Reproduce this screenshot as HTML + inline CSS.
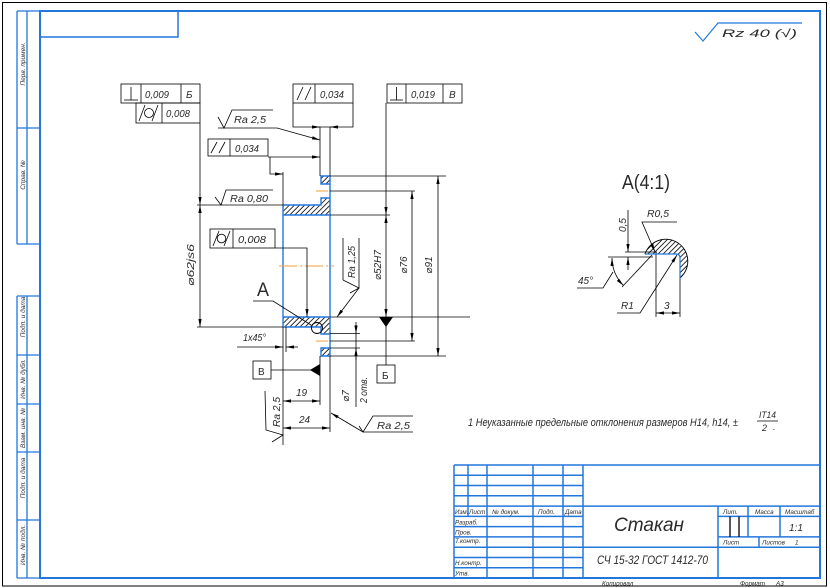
<!DOCTYPE html>
<html><head><meta charset="utf-8">
<style>
html,body{margin:0;padding:0;background:#fff;}
svg{display:block;}
text{font-family:"Liberation Sans","DejaVu Sans",sans-serif;font-style:italic;fill:#2a2a2a;}
text.n{font-style:normal;}
</style></head><body>
<svg width="830" height="588" viewBox="0 0 830 588" xmlns="http://www.w3.org/2000/svg">
<defs>
<marker id="ar" markerUnits="userSpaceOnUse" markerWidth="9" markerHeight="4" refX="8" refY="2" orient="auto-start-reverse"><path d="M0,0.4 L8,2 L0,3.6z" fill="#000"/></marker>
<pattern id="h" patternUnits="userSpaceOnUse" width="3.6" height="3.6" patternTransform="rotate(45)"><line x1="0.5" y1="0" x2="0.5" y2="3.6" stroke="#000" stroke-width="0.8"/></pattern>
</defs>

<!-- outer border -->
<rect x="2.5" y="2.5" width="824" height="583.5" fill="none" stroke="#000" stroke-width="1"/>
<!-- blue frame -->
<g stroke="#2277dd" fill="none">
<rect x="40" y="11" width="780" height="567" stroke-width="2"/>
<polyline points="40,37 178,37 178,11" stroke-width="1.5"/>
<g stroke-width="1.3">
<line x1="17" y1="11" x2="17" y2="244"/><line x1="27" y1="11" x2="27" y2="244"/>
<line x1="17" y1="11" x2="40" y2="11"/><line x1="17" y1="128" x2="40" y2="128"/><line x1="17" y1="244" x2="40" y2="244"/>
<line x1="17" y1="296" x2="17" y2="578"/><line x1="27" y1="296" x2="27" y2="578"/>
<line x1="17" y1="296" x2="40" y2="296"/><line x1="17" y1="355" x2="40" y2="355"/><line x1="17" y1="404" x2="40" y2="404"/>
<line x1="17" y1="452" x2="40" y2="452"/><line x1="17" y1="520" x2="40" y2="520"/><line x1="17" y1="578" x2="40" y2="578"/>
</g>
</g>
<g font-size="6.5" text-anchor="middle">
<text transform="translate(25,64) rotate(-90)">Перв. примен.</text>
<text transform="translate(25,175) rotate(-90)">Справ. №</text>
<text transform="translate(25,317) rotate(-90)">Подп. и дата</text>
<text transform="translate(25,379) rotate(-90)">Инв. № дубл.</text>
<text transform="translate(25,428) rotate(-90)">Взам. инв. №</text>
<text transform="translate(25,478) rotate(-90)">Подп. и дата</text>
<text transform="translate(25,545) rotate(-90)">Инв. № подл.</text>
</g>

<!-- Rz sign -->
<polyline points="695,32 703,41 718,23 802,23" fill="none" stroke="#2277dd" stroke-width="1.2"/>
<text x="722" y="37" font-size="11" textLength="75" lengthAdjust="spacingAndGlyphs">Rz 40 (√)</text>

<!-- PART hatching -->
<path d="M321,176 H330 V184 H321 Z M321,198 H330 V215 H283 V205 H321 Z M283,317 H330 V334 H321 V327 H283 Z M321,348 H330 V356 H321 Z" fill="url(#h)"/>
<!-- part contour -->
<g stroke="#2277dd" stroke-width="1.4" fill="none">
<line x1="283" y1="205" x2="283" y2="327"/>
<line x1="330" y1="176" x2="330" y2="356"/>
<polyline points="330,176 321,176 321,184 330,184"/>
<polyline points="330,198 321,198 321,205 283,205"/>
<line x1="283" y1="215" x2="330" y2="215"/>
<line x1="283" y1="317" x2="330" y2="317"/>
<polyline points="283,327 321,327 321,334 330,334"/>
<polyline points="330,348 321,348 321,356 330,356"/>
</g>
<!-- centerlines -->
<g stroke="#f0a040" stroke-width="1" fill="none">
<line x1="279" y1="266" x2="334" y2="266" stroke-dasharray="18,3,2,3"/>
<line x1="316" y1="191" x2="328" y2="191"/>
<line x1="316" y1="341" x2="328" y2="341"/>
</g>
<circle cx="317" cy="328" r="5.5" fill="none" stroke="#000" stroke-width="0.9"/>

<!-- drawing lines -->
<g stroke="#000" stroke-width="0.8" fill="none">
<rect x="121" y="84" width="79" height="19"/>
<line x1="141" y1="84" x2="141" y2="103"/><line x1="181" y1="84" x2="181" y2="103"/>
<line x1="124" y1="100" x2="138" y2="100"/><line x1="131" y1="87" x2="131" y2="100"/>
<rect x="136" y="103" width="64" height="20"/>
<line x1="162" y1="103" x2="162" y2="123"/>
<circle cx="149" cy="113" r="4.5"/>
<line x1="139" y1="121" x2="145" y2="105"/><line x1="152" y1="121" x2="158" y2="105"/>
<rect x="293" y="84" width="60" height="19"/>
<line x1="315" y1="84" x2="315" y2="103"/>
<line x1="297" y1="100" x2="303" y2="87"/><line x1="305" y1="100" x2="311" y2="87"/>
<polyline points="293,103 293,127 353,127 353,103"/>
<line x1="312" y1="127" x2="320" y2="127" marker-end="url(#ar)"/>
<line x1="338" y1="127" x2="330" y2="127" marker-end="url(#ar)"/>
<line x1="320" y1="127" x2="320" y2="176"/><line x1="330" y1="127" x2="330" y2="176"/>
<rect x="208" y="139" width="60" height="17"/>
<line x1="230" y1="139" x2="230" y2="156"/>
<line x1="211" y1="153" x2="217" y2="142"/><line x1="219" y1="153" x2="225" y2="142"/>
<line x1="268" y1="157" x2="320" y2="157" marker-end="url(#ar)"/>
<polyline points="270,157 270,174 283,174" marker-end="url(#ar)"/>
<line x1="283" y1="172" x2="283" y2="205"/>
<rect x="387" y="84" width="75" height="19"/>
<line x1="406" y1="84" x2="406" y2="103"/><line x1="443" y1="84" x2="443" y2="103"/>
<line x1="390" y1="100" x2="403" y2="100"/><line x1="396.5" y1="87" x2="396.5" y2="100"/>
<line x1="386" y1="103" x2="386" y2="215" marker-end="url(#ar)"/>
<rect x="210" y="229" width="65" height="19"/>
<line x1="233" y1="229" x2="233" y2="248"/>
<circle cx="221.5" cy="238.5" r="4.3"/>
<line x1="213" y1="246" x2="219" y2="231"/><line x1="224" y1="246" x2="230" y2="231"/>
<polyline points="275,248 307,248 307,317" marker-end="url(#ar)"/>

<polyline points="218,117 224,128 232,110 273,110"/>
<polyline points="218,128 277,128 320,140" marker-end="url(#ar)"/>
<polyline points="215,197 221,205 226,190 273,190"/>
<line x1="197" y1="205" x2="283" y2="205"/>
<line x1="200" y1="123" x2="200" y2="205" marker-end="url(#ar)"/>
<line x1="200" y1="205" x2="200" y2="327" marker-start="url(#ar)" marker-end="url(#ar)"/>
<line x1="197" y1="327" x2="283" y2="327"/>
<polyline points="253,301 273,301 311,325"/>
<line x1="330" y1="176" x2="446" y2="176"/>
<line x1="330" y1="191" x2="415" y2="191"/>
<line x1="330" y1="215" x2="390" y2="215"/>
<line x1="330" y1="317" x2="470" y2="317"/>
<line x1="330" y1="333.5" x2="360" y2="333.5"/>
<line x1="330" y1="341" x2="415" y2="341"/>
<line x1="330" y1="348" x2="360" y2="348"/>
<line x1="330" y1="356" x2="446" y2="356"/>
<line x1="438" y1="176" x2="438" y2="356" marker-start="url(#ar)" marker-end="url(#ar)"/>
<line x1="412" y1="191" x2="412" y2="341" marker-start="url(#ar)" marker-end="url(#ar)"/>
<line x1="386" y1="215" x2="386" y2="317" marker-start="url(#ar)" marker-end="url(#ar)"/>
<line x1="386" y1="317" x2="386" y2="365"/>
<rect x="377" y="365" width="18" height="18"/>
<line x1="356" y1="322" x2="356" y2="333.5" marker-end="url(#ar)"/>
<line x1="356" y1="360" x2="356" y2="348" marker-end="url(#ar)"/>
<line x1="356" y1="333.5" x2="356" y2="407"/>
<line x1="343" y1="238" x2="343" y2="280"/>
<line x1="359" y1="238" x2="359" y2="288"/>
<polyline points="343,280 359,288 350,293"/>
<line x1="359" y1="288" x2="337" y2="317" marker-end="url(#ar)"/>
<line x1="283" y1="327" x2="283" y2="445"/>
<line x1="286" y1="327" x2="286" y2="352"/>
<line x1="237" y1="347" x2="283" y2="347" marker-end="url(#ar)"/>
<line x1="298" y1="347" x2="286" y2="347" marker-end="url(#ar)"/>
<rect x="253" y="361" width="18" height="18"/>
<line x1="271" y1="370" x2="311" y2="370"/>
<line x1="320" y1="356" x2="320" y2="405"/>
<line x1="330" y1="356" x2="330" y2="432"/>
<line x1="283" y1="401" x2="320" y2="401" marker-start="url(#ar)" marker-end="url(#ar)"/>
<line x1="283" y1="428" x2="330" y2="428" marker-start="url(#ar)" marker-end="url(#ar)"/>
<polyline points="265,391 266,430 283,435 272,442"/>
<polyline points="363,432 331,413" marker-end="url(#ar)"/>
<line x1="363" y1="432" x2="413" y2="432"/>
<polyline points="359,426 363,432 373,416 413,416"/>

<line x1="656" y1="252" x2="656" y2="317"/>
<line x1="680" y1="278" x2="680" y2="317"/>
<line x1="656" y1="313" x2="680" y2="313" marker-start="url(#ar)" marker-end="url(#ar)"/>
<polyline points="617,313 640,313 677,255" marker-end="url(#ar)"/>
<polyline points="677,222 642,222 655,252" marker-end="url(#ar)"/>
<line x1="628" y1="210" x2="628" y2="252" marker-end="url(#ar)"/>
<line x1="628" y1="270" x2="628" y2="257" marker-end="url(#ar)"/>
<line x1="625" y1="252" x2="657" y2="252"/>
<line x1="608" y1="257" x2="653" y2="257"/>
<line x1="622" y1="287" x2="652" y2="255"/>
<path d="M612,258 A40,40 0 0 0 623.5,285.5" marker-start="url(#ar)" marker-end="url(#ar)"/>
<polyline points="577,288 603,288 613,272"/>
</g>
<polygon points="379,317 393,317 386,327" fill="#000"/>
<polygon points="310,370 320,364 320,376" fill="#000"/>

<path d="M645,254 A22,22 0 1 1 680,278 L680,258 Q680,254 676,254 Z" fill="url(#h)"/>
<path d="M645,254 A22,22 0 1 1 680,278" fill="none" stroke="#000" stroke-width="0.9"/>
<path d="M645,254 L676,254 Q680,254 680,258 L680,279" fill="none" stroke="#2277dd" stroke-width="1.2"/>

<g font-size="10">
<text x="145" y="98" textLength="24" lengthAdjust="spacingAndGlyphs">0,009</text>
<text x="186" y="98">Б</text>
<text x="166" y="117" textLength="24" lengthAdjust="spacingAndGlyphs">0,008</text>
<text x="320" y="98" textLength="24" lengthAdjust="spacingAndGlyphs">0,034</text>
<text x="235" y="152" textLength="24" lengthAdjust="spacingAndGlyphs">0,034</text>
<text x="411" y="98" textLength="24" lengthAdjust="spacingAndGlyphs">0,019</text>
<text x="449" y="98">В</text>
<text x="238" y="243" textLength="28" lengthAdjust="spacingAndGlyphs">0,008</text>
<text x="234" y="123" textLength="32" lengthAdjust="spacingAndGlyphs">Ra 2,5</text>
<text x="230" y="202" textLength="38" lengthAdjust="spacingAndGlyphs">Ra 0,80</text>
<text x="377" y="429" textLength="33" lengthAdjust="spacingAndGlyphs">Ra 2,5</text>
<text x="243" y="341" textLength="23" lengthAdjust="spacingAndGlyphs">1x45°</text>
<text x="258" y="375" class="n">В</text>
<text x="382" y="379" class="n">Б</text>
<text x="296" y="396">19</text>
<text x="299" y="423">24</text>
<text transform="translate(194,265) rotate(-90)" text-anchor="middle" textLength="42" lengthAdjust="spacingAndGlyphs">⌀62js6</text>
<text transform="translate(381,265) rotate(-90)" text-anchor="middle">⌀52H7</text>
<text transform="translate(407,265) rotate(-90)" text-anchor="middle">⌀76</text>
<text transform="translate(432,265) rotate(-90)" text-anchor="middle">⌀91</text>
<text transform="translate(355,262) rotate(-90)" text-anchor="middle" textLength="32" lengthAdjust="spacingAndGlyphs">Ra 1,25</text>
<text transform="translate(349,396) rotate(-90)" text-anchor="middle">⌀7</text>
<text transform="translate(367,390) rotate(-90)" text-anchor="middle" textLength="26" lengthAdjust="spacingAndGlyphs">2 отв.</text>
<text transform="translate(280,412) rotate(-90)" text-anchor="middle" textLength="30" lengthAdjust="spacingAndGlyphs">Ra 2,5</text>
<text x="647" y="217" textLength="22" lengthAdjust="spacingAndGlyphs">R0,5</text>
<text transform="translate(626,225) rotate(-90)" text-anchor="middle">0,5</text>
<text x="578" y="284">45°</text>
<text x="621" y="309">R1</text>
<text x="664" y="309">3</text>
</g>
<text x="257" y="296" font-size="19" class="n" textLength="12" lengthAdjust="spacingAndGlyphs">A</text>
<text x="622" y="189" font-size="20" class="n" textLength="48" lengthAdjust="spacingAndGlyphs">A(4:1)</text>

<text x="468" y="426" font-size="11" textLength="270" lengthAdjust="spacingAndGlyphs">1 Неуказанные предельные отклонения размеров H14, h14, ±</text>
<text x="759" y="418" font-size="9" textLength="17" lengthAdjust="spacingAndGlyphs">IT14</text>
<line x1="757" y1="421" x2="778" y2="421" stroke="#000" stroke-width="0.7"/>
<text x="762" y="431" font-size="9">2</text>
<text x="773" y="430" font-size="9">.</text>

<g stroke="#2277dd" stroke-width="1.5" fill="none">
<line x1="454" y1="465" x2="820" y2="465"/>
<line x1="454" y1="465" x2="454" y2="578"/>
<line x1="454" y1="475.3" x2="583" y2="475.3"/>
<line x1="454" y1="485.5" x2="583" y2="485.5"/>
<line x1="454" y1="495.8" x2="583" y2="495.8"/>
<line x1="454" y1="506.1" x2="820" y2="506.1"/>
<line x1="454" y1="516.4" x2="583" y2="516.4"/>
<line x1="454" y1="526.6" x2="583" y2="526.6"/>
<line x1="454" y1="536.9" x2="583" y2="536.9"/>
<line x1="454" y1="547.2" x2="820" y2="547.2"/>
<line x1="454" y1="557.5" x2="583" y2="557.5"/>
<line x1="454" y1="567.7" x2="583" y2="567.7"/>
<line x1="468" y1="465" x2="468" y2="516.4"/>
<line x1="487" y1="465" x2="487" y2="578"/>
<line x1="533" y1="465" x2="533" y2="578"/>
<line x1="563" y1="465" x2="563" y2="578"/>
<line x1="583" y1="465" x2="583" y2="578"/>
<line x1="718" y1="506.1" x2="718" y2="578"/>
<line x1="718" y1="516.4" x2="820" y2="516.4"/>
<line x1="718" y1="536.9" x2="820" y2="536.9"/>
<line x1="748" y1="506.1" x2="748" y2="536.9"/>
<line x1="780" y1="506.1" x2="780" y2="536.9"/>
<line x1="759" y1="536.9" x2="759" y2="547.2"/>
</g>
<g stroke="#000" stroke-width="1.3">
<line x1="730" y1="516.4" x2="730" y2="536.9"/>
<line x1="739" y1="516.4" x2="739" y2="536.9"/>
</g>
<g font-size="6.3">
<text x="455" y="514">Изм.</text>
<text x="469" y="514">Лист</text>
<text x="492" y="514">№ докум.</text>
<text x="538" y="514">Подп.</text>
<text x="565" y="514">Дата</text>
<text x="455" y="524.5">Разраб.</text>
<text x="455" y="534.5">Пров.</text>
<text x="455" y="543">Т.контр.</text>
<text x="455" y="565">Н.контр.</text>
<text x="455" y="575.5">Утв.</text>
<text x="723" y="514">Лит.</text>
<text x="755" y="514">Масса</text>
<text x="785" y="514">Масштаб</text>
<text x="723" y="544.5">Лист</text>
<text x="762" y="544.5">Листов</text>
<text x="795" y="544.5">1</text>
<text x="602" y="585.5">Копировал</text>
<text x="740" y="585.5">Формат</text>
<text x="776" y="585.5">А3</text>
</g>
<text x="789" y="531" font-size="10">1:1</text>
<text x="614" y="531" font-size="19" textLength="70" lengthAdjust="spacingAndGlyphs">Стакан</text>
<text x="597" y="564" font-size="12" textLength="111" lengthAdjust="spacingAndGlyphs">СЧ 15-32 ГОСТ 1412-70</text>
</svg>
</body></html>
